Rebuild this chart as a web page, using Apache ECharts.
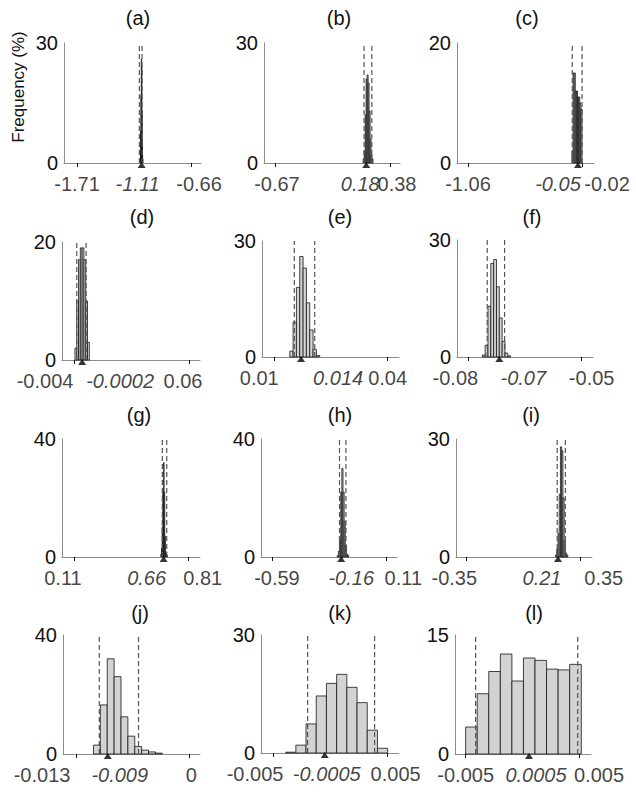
<!DOCTYPE html>
<html>
<head>
<meta charset="utf-8">
<script src="https://cdn.jsdelivr.net/npm/echarts@6.0.0/dist/echarts.min.js"></script>
<style>
  html, body { margin: 0; padding: 0; background: #fff; }
  #chart { width: 636px; height: 794px; }
</style>
</head>
<body>
<div id="chart"></div>
<script>
  // ---- data ----
  const titles = ['(a)', '(b)', '(c)', '(d)', '(e)', '(f)', '(g)', '(h)', '(i)', '(j)', '(k)', '(l)'];
  const yMax = [30, 30, 20, 20, 30, 30, 40, 40, 30, 40, 30, 15];
  const xMin = [-1.83, -0.77, -1.16, -0.0107, 0.00675, -0.083, 0.037, -0.657, -0.413, -0.0145, -0.00605, -0.00594];
  const xMax = [-0.568, 0.471, 0.089, 0.0661, 0.043, -0.047, 0.879, 0.1755, 0.419, 0.00123, 0.00599, 0.00606];
  const tickLo = [-1.71, -0.67, -1.06, -0.004, 0.01, -0.08, 0.11, -0.59, -0.35, -0.013, -0.005, -0.005];
  const tickHi = [-0.66, 0.38, -0.02, 0.06, 0.04, -0.05, 0.81, 0.11, 0.35, 0, 0.005, 0.005];
  const tickLoText = ['-1.71', '-0.67', '-1.06', '-0.004', '0.01', '-0.08', '0.11', '-0.59', '-0.35', '-0.013', '-0.005', '-0.005'];
  const tickHiText = ['-0.66', '0.38', '-0.02', '0.06', '0.04', '-0.05', '0.81', '0.11', '0.35', '0', '0.005', '0.005'];
  const meanVal = [-1.115, 0.163, -0.057, 0.0005, 0.0171, -0.0718, 0.657, -0.166, 0.211, -0.00936, -0.00049, 0.00059];
  const meanText = ['-1.11', '0.18', '-0.05', '-0.0002', '0.014', '-0.07', '0.66', '-0.16', '0.21', '-0.009', '-0.0005', '0.0005'];
  const dashLo = [-1.136, 0.143, -0.109, -0.0025, 0.0153, -0.075, 0.649, -0.1765, 0.206, -0.01033, -0.00198, -0.00412];
  const dashHi = [-1.111, 0.214, -0.02, 0.0027, 0.0207, -0.0704, 0.676, -0.137, 0.256, -0.00583, 0.00386, 0.00489];
  const binStart = [-1.128, 0.135, -0.112, -0.0035, 0.0141, -0.0763, 0.640, -0.19, 0.196, -0.0110, -0.0039, -0.005];
  const binWidth = [0.0025, 0.009, 0.0102, 0.001, 0.00088, 0.00075, 0.004, 0.007, 0.0075, 0.00079, 0.00089, 0.00102];

  const freqA = [1, 3, 8, 17, 26, 24, 13, 5, 2, 1];
  const freqB = [1, 3, 12, 21, 22, 20, 13, 6, 2, 1];
  const freqC = [2, 15, 15, 12, 12, 11, 11, 10, 9];
  const freqD = [2, 10, 17, 19, 19, 17, 10, 3];
  const freqE = [1.5, 9, 18, 26, 23, 14, 7, 2, 0.4];
  const freqF = [0.5, 3, 13, 24, 25, 18, 10, 4, 1, 0.3];
  const freqG = [1, 3, 10, 22, 32, 22, 7, 2, 1, 0.5];
  const freqH = [0.5, 2, 6, 22, 30, 22, 12, 4, 1, 0.5];
  const freqI = [0.5, 2, 6, 16, 28, 27, 15, 4, 1, 0.5];
  const freqJ = [3, 16.5, 32, 26, 12.5, 6, 2.5, 1.3, 0.7, 0.3];
  const freqK = [0.2, 2, 7.4, 14.5, 17.7, 20, 16.7, 12.8, 5.8, 1.2];
  const freqL = [3.4, 7.6, 10.4, 12.6, 9.2, 12.1, 11.8, 10.7, 10.6, 11.3];
  const freqs = [freqA, freqB, freqC, freqD, freqE, freqF, freqG, freqH, freqI, freqJ, freqK, freqL];

  // ---- layout (pixels) ----
  const gridBox = [
    [64, 43, 137, 120], [264, 43, 136, 120], [457, 43, 137, 120],
    [62, 242, 138, 118], [262, 241, 137, 116], [457, 240, 136, 117],
    [62, 439, 138, 118], [261, 439, 136, 118], [456, 439, 136, 118],
    [63, 635, 137, 119], [261, 635, 138, 118], [455, 635, 136, 119]
  ];
  const titlePos = [
    [138, 18], [339, 18], [527, 18],
    [142, 217], [340, 217], [532, 217],
    [139, 415], [340, 415], [531, 415],
    [140, 613], [340, 613], [534, 613]
  ];
  // horizontal nudges of the three x labels (left tick, mean, right tick)
  const labelShift = [
    [0, -4, 8], [2, -6, 7], [0, -20, 25],
    [-29, 38, -6], [-15, 37, 0], [-13, 24, 10],
    [-11, -17, 14], [5, 10, 17], [-12, -16, 23],
    [-34, 12, 2], [-18, 2, 8], [0, 7, 20]
  ];

  const font = "'Liberation Sans', Arial, sans-serif";
  const fs = 20;

  function renderBar(params, api) {
    const p0 = api.coord([api.value(0), api.value(2)]);
    const p1 = api.coord([api.value(1), 0]);
    return {
      type: 'rect',
      shape: { x: p0[0], y: p0[1], width: p1[0] - p0[0], height: p1[1] - p0[1] },
      style: { fill: '#d3d3d3', stroke: '#151515', lineWidth: 0.8 }
    };
  }

  function renderDash(params, api) {
    const p0 = api.coord([api.value(0), 0]);
    const p1 = api.coord([api.value(0), api.value(1)]);
    return {
      type: 'line',
      shape: { x1: p0[0], y1: p0[1], x2: p1[0], y2: p1[1] },
      style: { stroke: '#555', lineWidth: 1.2, lineDash: [5, 3] }
    };
  }

  const grid = [], xAxis = [], yAxis = [], series = [], graphic = [];

  for (let i = 0; i < 12; i++) {
    const g = gridBox[i];
    grid.push({ left: g[0], top: g[1], width: g[2], height: g[3], outerBoundsMode: 'none' });

    xAxis.push({
      type: 'value', gridIndex: i, min: xMin[i], max: xMax[i],
      splitLine: { show: false },
      axisLine: { onZero: false, lineStyle: { color: '#8c8c8c', width: 1 } },
      axisTick: { show: true, customValues: [tickLo[i], tickHi[i]], length: 4, lineStyle: { color: '#111', width: 1 } },
      axisLabel: { show: false }
    });

    yAxis.push({
      type: 'value', gridIndex: i, min: 0, max: yMax[i], interval: yMax[i],
      splitLine: { show: false },
      axisTick: { show: false },
      axisLine: { show: true, onZero: false, lineStyle: { color: '#8c8c8c', width: 1 } },
      axisLabel: { fontSize: fs, lineHeight: 18, fontFamily: font, color: '#111', margin: 6 }
    });

    // histogram bars
    series.push({
      type: 'custom', xAxisIndex: i, yAxisIndex: i,
      renderItem: renderBar,
      encode: { x: [0, 1], y: 2 },
      data: freqs[i].map(function (h, k) {
        return [binStart[i] + k * binWidth[i], binStart[i] + (k + 1) * binWidth[i], h];
      }),
      silent: true, z: 2
    });

    // dashed interval lines
    series.push({
      type: 'custom', xAxisIndex: i, yAxisIndex: i,
      renderItem: renderDash,
      encode: { x: 0, y: 1 },
      data: [[dashLo[i], yMax[i]], [dashHi[i], yMax[i]]],
      silent: true, z: 3
    });

    // mean marker
    series.push({
      type: 'scatter', xAxisIndex: i, yAxisIndex: i,
      data: [[meanVal[i], 0]],
      symbol: 'triangle', symbolSize: [8, 6], symbolOffset: [0, 2],
      itemStyle: { color: '#000' },
      clip: false, silent: true, z: 5
    });

    // x labels: two tick values and the italic mean value
    const sh = labelShift[i];
    const lbl = function (dx, text, italic) {
      return {
        show: true, position: 'inside', offset: [dx, 21], formatter: text,
        fontSize: fs, lineHeight: 18, fontFamily: font, color: '#111', fontStyle: italic ? 'italic' : 'normal'
      };
    };
    series.push({
      type: 'scatter', xAxisIndex: i, yAxisIndex: i,
      symbol: 'circle', symbolSize: 1,
      itemStyle: { color: 'rgba(0,0,0,0)' },
      clip: false, silent: true, z: 6,
      data: [
        { value: [tickLo[i], 0], label: lbl(sh[0], tickLoText[i], false) },
        { value: [meanVal[i], 0], label: lbl(sh[1], meanText[i], true) },
        { value: [tickHi[i], 0], label: lbl(sh[2], tickHiText[i], false) }
      ]
    });

    graphic.push({
      type: 'text', x: titlePos[i][0], y: titlePos[i][1],
      style: { text: titles[i], fontSize: fs, fontFamily: font, fill: '#111', align: 'center', verticalAlign: 'middle' }
    });
  }

  graphic.push({
    type: 'text', x: 18, y: 87, rotation: Math.PI / 2,
    style: { text: 'Frequency (%)', fontSize: 17, fontFamily: font, fill: '#111', align: 'center', verticalAlign: 'middle' }
  });

  const chart = echarts.init(document.getElementById('chart'), null, { renderer: 'svg' });
  chart.setOption({
    animation: false,
    backgroundColor: '#fff',
    grid: grid,
    xAxis: xAxis,
    yAxis: yAxis,
    series: series,
    graphic: graphic
  });
</script>
</body>
</html>
